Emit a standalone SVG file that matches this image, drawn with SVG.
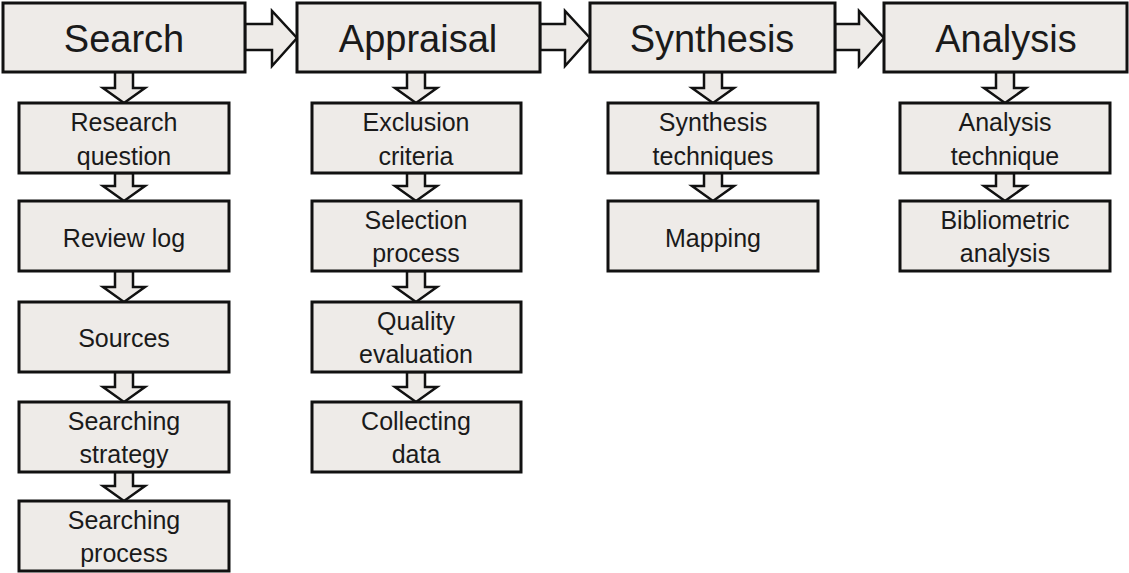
<svg xmlns="http://www.w3.org/2000/svg" width="1129" height="573" viewBox="0 0 1129 573">
  <style>
    .box { fill: #EEEBE8; stroke: #111; stroke-width: 3; }
    .arrow { fill: #EEEBE8; stroke: #111; stroke-width: 2.5; stroke-linejoin: miter; }
    .title { font-family: "Liberation Sans", Arial, sans-serif; font-size: 38px; fill: #1a1a1a; text-anchor: middle; }
    .label { font-family: "Liberation Sans", Arial, sans-serif; font-size: 25px; fill: #1a1a1a; text-anchor: middle; }
  </style>
  <rect width="1129" height="573" fill="#fff"/>

  <!-- block arrows -->
  <g id="connectors">
    <!-- horizontal: phase to phase -->
    <path class="arrow" d="M245,24 H272 V11 L297,38 L272,66 V50 H245 Z"/>
    <path class="arrow" d="M540,24 H565 V11 L590,38 L565,66 V50 H540 Z"/>
    <path class="arrow" d="M835,24 H859 V11 L884,38 L859,66 V50 H835 Z"/>
    <!-- Search column -->
    <path class="arrow" d="M115,72 V88 H103 L124,103 L145,88 H133 V72 Z"/>
    <path class="arrow" d="M115,173 V186 H103 L124,201 L145,186 H133 V173 Z"/>
    <path class="arrow" d="M115,271 V287 H103 L124,302 L145,287 H133 V271 Z"/>
    <path class="arrow" d="M115,372 V387 H103 L124,402 L145,387 H133 V372 Z"/>
    <path class="arrow" d="M115,472 V486 H103 L124,501 L145,486 H133 V472 Z"/>
    <!-- Appraisal column -->
    <path class="arrow" d="M407,72 V88 H395 L416,103 L437,88 H425 V72 Z"/>
    <path class="arrow" d="M407,173 V186 H395 L416,201 L437,186 H425 V173 Z"/>
    <path class="arrow" d="M407,271 V287 H395 L416,302 L437,287 H425 V271 Z"/>
    <path class="arrow" d="M407,372 V387 H395 L416,402 L437,387 H425 V372 Z"/>
    <!-- Synthesis column -->
    <path class="arrow" d="M704,72 V88 H692 L713,103 L734,88 H722 V72 Z"/>
    <path class="arrow" d="M704,173 V186 H692 L713,201 L734,186 H722 V173 Z"/>
    <!-- Analysis column -->
    <path class="arrow" d="M996,72 V88 H984 L1005,103 L1026,88 H1014 V72 Z"/>
    <path class="arrow" d="M996,173 V186 H984 L1005,201 L1026,186 H1014 V173 Z"/>
  </g>

  <!-- phase headers -->
  <g id="search">
    <rect class="box" x="3" y="3" width="242" height="69"/>
    <text class="title" x="124" y="52">Search</text>
  </g>
  <g id="appraisal">
    <rect class="box" x="297" y="3" width="243" height="69"/>
    <text class="title" x="418" y="52">Appraisal</text>
  </g>
  <g id="synthesis">
    <rect class="box" x="590" y="3" width="245" height="69"/>
    <text class="title" x="712" y="52">Synthesis</text>
  </g>
  <g id="analysis">
    <rect class="box" x="884" y="3" width="243" height="69"/>
    <text class="title" x="1006" y="52">Analysis</text>
  </g>

  <!-- Search steps -->
  <g id="research-question">
    <rect class="box" x="19" y="103" width="210" height="70"/>
    <text class="label" x="124" y="131">Research</text>
    <text class="label" x="124" y="165">question</text>
  </g>
  <g id="review-log">
    <rect class="box" x="19" y="201" width="210" height="70"/>
    <text class="label" x="124" y="247">Review log</text>
  </g>
  <g id="sources">
    <rect class="box" x="19" y="302" width="210" height="70"/>
    <text class="label" x="124" y="347">Sources</text>
  </g>
  <g id="searching-strategy">
    <rect class="box" x="19" y="402" width="210" height="70"/>
    <text class="label" x="124" y="430">Searching</text>
    <text class="label" x="124" y="463">strategy</text>
  </g>
  <g id="searching-process">
    <rect class="box" x="19" y="501" width="210" height="70"/>
    <text class="label" x="124" y="529">Searching</text>
    <text class="label" x="124" y="562">process</text>
  </g>

  <!-- Appraisal steps -->
  <g id="exclusion-criteria">
    <rect class="box" x="312" y="103" width="209" height="70"/>
    <text class="label" x="416" y="131">Exclusion</text>
    <text class="label" x="416" y="165">criteria</text>
  </g>
  <g id="selection-process">
    <rect class="box" x="312" y="201" width="209" height="70"/>
    <text class="label" x="416" y="229">Selection</text>
    <text class="label" x="416" y="262">process</text>
  </g>
  <g id="quality-evaluation">
    <rect class="box" x="312" y="302" width="209" height="70"/>
    <text class="label" x="416" y="330">Quality</text>
    <text class="label" x="416" y="363">evaluation</text>
  </g>
  <g id="collecting-data">
    <rect class="box" x="312" y="402" width="209" height="70"/>
    <text class="label" x="416" y="430">Collecting</text>
    <text class="label" x="416" y="463">data</text>
  </g>

  <!-- Synthesis steps -->
  <g id="synthesis-techniques">
    <rect class="box" x="608" y="103" width="210" height="70"/>
    <text class="label" x="713" y="131">Synthesis</text>
    <text class="label" x="713" y="165">techniques</text>
  </g>
  <g id="mapping">
    <rect class="box" x="608" y="201" width="210" height="70"/>
    <text class="label" x="713" y="247">Mapping</text>
  </g>

  <!-- Analysis steps -->
  <g id="analysis-technique">
    <rect class="box" x="900" y="103" width="210" height="70"/>
    <text class="label" x="1005" y="131">Analysis</text>
    <text class="label" x="1005" y="165">technique</text>
  </g>
  <g id="bibliometric-analysis">
    <rect class="box" x="900" y="201" width="210" height="70"/>
    <text class="label" x="1005" y="229">Bibliometric</text>
    <text class="label" x="1005" y="262">analysis</text>
  </g>
</svg>
